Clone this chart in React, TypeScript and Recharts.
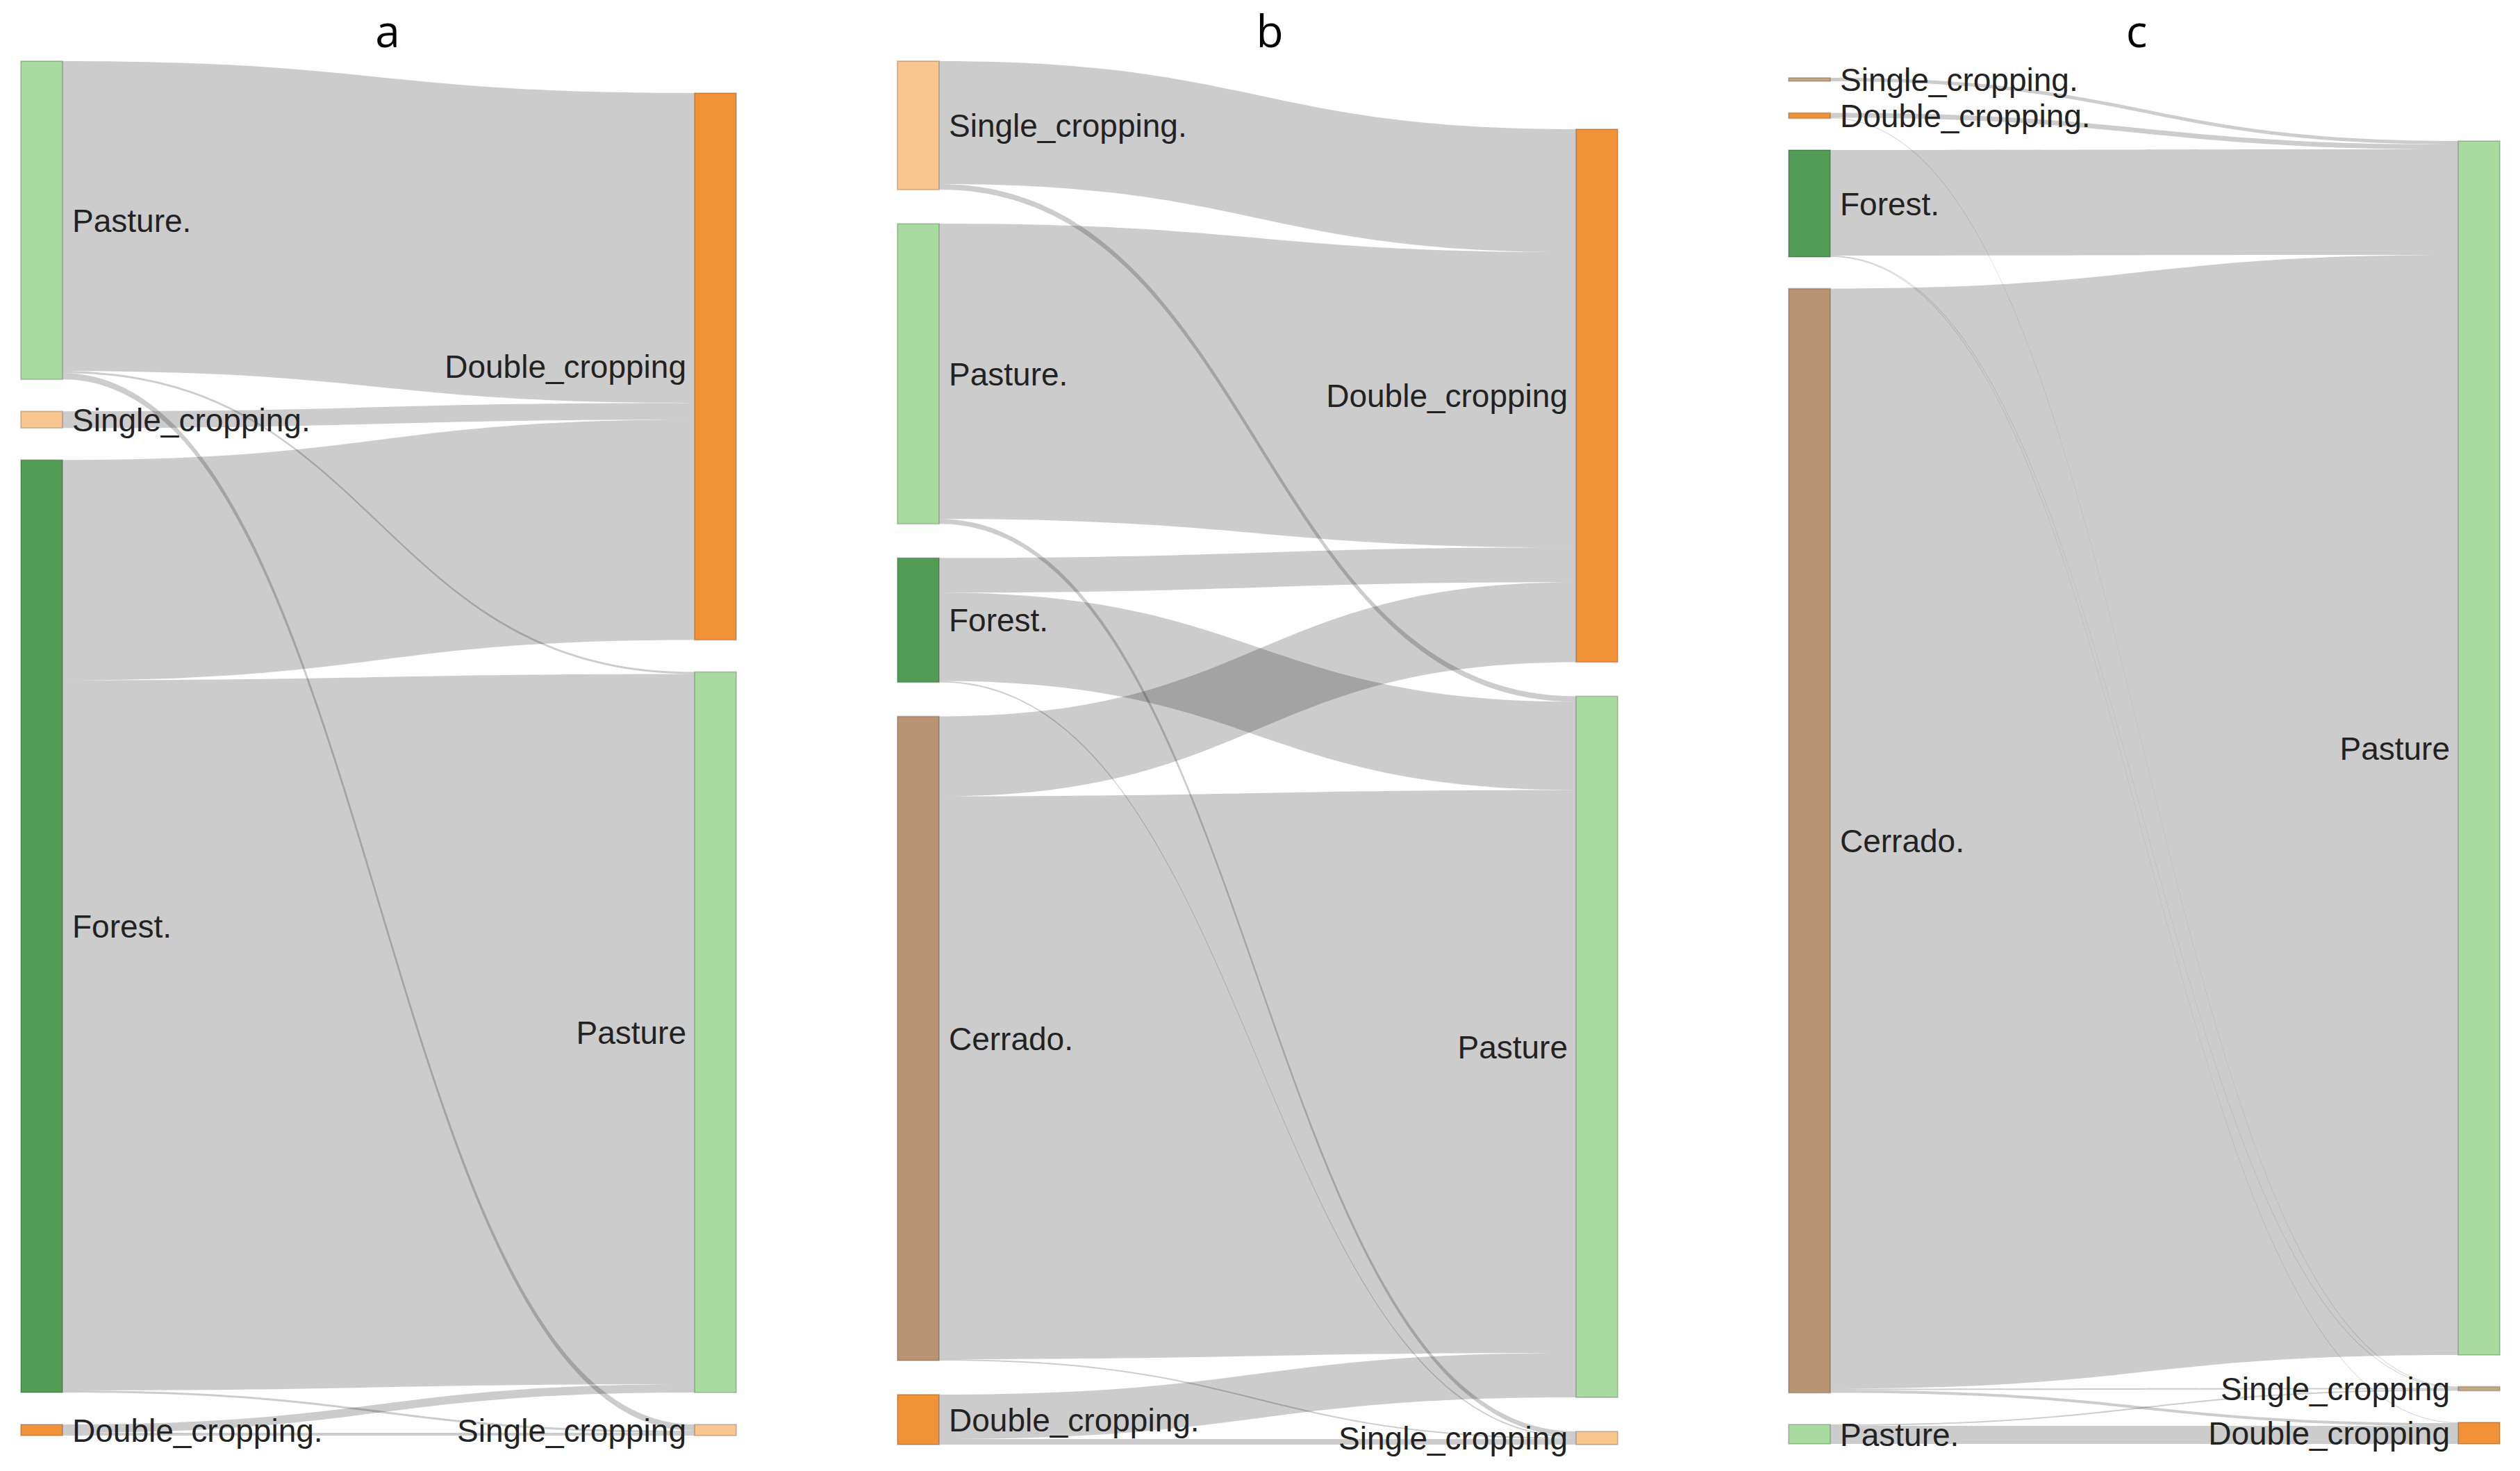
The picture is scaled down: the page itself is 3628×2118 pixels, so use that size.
import React from "react";
import { Sankey } from "recharts";

// ---------- data ----------
const titles = ["a", "b", "c"];

const nodesA = ["Pasture.", "Single_cropping.", "Forest.", "Double_cropping.", "Double_cropping", "Pasture", "Single_cropping"];
const linksA: [string, string, number][] = [
  ["Pasture.", "Double_cropping", 446],
  ["Pasture.", "Pasture", 3],
  ["Pasture.", "Single_cropping", 9],
  ["Single_cropping.", "Double_cropping", 24],
  ["Forest.", "Double_cropping", 317],
  ["Forest.", "Pasture", 1022],
  ["Forest.", "Single_cropping", 3],
  ["Double_cropping.", "Pasture", 12],
  ["Double_cropping.", "Single_cropping", 4],
];

const nodesB = ["Single_cropping.", "Pasture.", "Forest.", "Cerrado.", "Double_cropping.", "Double_cropping", "Pasture", "Single_cropping"];
const linksB: [string, string, number][] = [
  ["Single_cropping.", "Double_cropping", 177],
  ["Single_cropping.", "Pasture", 8],
  ["Pasture.", "Double_cropping", 425],
  ["Pasture.", "Single_cropping", 7],
  ["Forest.", "Double_cropping", 50],
  ["Forest.", "Pasture", 127],
  ["Forest.", "Single_cropping", 2],
  ["Cerrado.", "Double_cropping", 115],
  ["Cerrado.", "Pasture", 810],
  ["Cerrado.", "Single_cropping", 2],
  ["Double_cropping.", "Pasture", 64],
  ["Double_cropping.", "Single_cropping", 8],
];

const nodesC = ["Single_cropping.", "Double_cropping.", "Forest.", "Cerrado.", "Pasture.", "Pasture", "Single_cropping", "Double_cropping"];
const linksC: [string, string, number][] = [
  ["Single_cropping.", "Pasture", 5],
  ["Double_cropping.", "Pasture", 7],
  ["Double_cropping.", "Single_cropping", 1],
  ["Forest.", "Pasture", 152],
  ["Forest.", "Single_cropping", 1],
  ["Forest.", "Double_cropping", 1],
  ["Cerrado.", "Pasture", 1584],
  ["Cerrado.", "Single_cropping", 2],
  ["Cerrado.", "Double_cropping", 4],
  ["Pasture.", "Single_cropping", 2],
  ["Pasture.", "Double_cropping", 26],
];

// ---------- styles ----------
const paletteAB: Record<string, string> = {
  Pasture: "#a9dba0",
  Forest: "#539c56",
  Cerrado: "#b99472",
  Double_cropping: "#f19239",
  Single_cropping: "#f8c68e",
};
const paletteC: Record<string, string> = { ...paletteAB, Single_cropping: "#c6a684" };

const LABEL_FONT = "'Liberation Sans', Arial, sans-serif";

function buildData(nodes: string[], links: [string, string, number][]) {
  return {
    nodes: nodes.map((name) => ({ name })),
    links: links.map(([s, t, v]) => ({ source: nodes.indexOf(s), target: nodes.indexOf(t), value: v })),
  };
}

function makeNode(palette: Record<string, string>) {
  return (props: any) => {
    const { x, y, width, height, payload } = props;
    const name: string = payload?.name ?? "";
    const key = name.replace(/\.$/, "");
    const isLeft = x < 500;
    const cy = y + height / 2;
    return (
      <g>
        <rect x={x} y={y} width={width} height={height} fill={palette[key] || "#999"} stroke="#000" strokeOpacity={0.18} strokeWidth={2} />
        <text
          x={isLeft ? x + width + 14 : x - 12}
          y={cy}
          dy="0.36em"
          textAnchor={isLeft ? "start" : "end"}
          fontSize={46}
          fontFamily={LABEL_FONT}
          fill="#222"
        >
          {name}
        </text>
      </g>
    );
  };
}

function RibbonLink(props: any) {
  const { sourceX, targetX, sourceY, targetY, sourceControlX, targetControlX, linkWidth } = props;
  const h = linkWidth / 2;
  const d =
    `M${sourceX},${sourceY - h} C${sourceControlX},${sourceY - h} ${targetControlX},${targetY - h} ${targetX},${targetY - h} ` +
    `L${targetX},${targetY + h} C${targetControlX},${targetY + h} ${sourceControlX},${sourceY + h} ${sourceX},${sourceY + h} Z`;
  return <path d={d} fill="#000" fillOpacity={0.2} stroke="none" />;
}

const charts = [
  { nodes: nodesA, links: linksA, palette: paletteAB, left: 0, width: 1100, padding: 46, margin: { top: 88, bottom: 51, left: 30, right: 40 } },
  { nodes: nodesB, links: linksB, palette: paletteAB, left: 1250, width: 1130, padding: 49, margin: { top: 88, bottom: 38, left: 42, right: 51 } },
  { nodes: nodesC, links: linksC, palette: paletteC, left: 2500, width: 1128, padding: 45.5, margin: { top: 112, bottom: 39, left: 75, right: 29 } },
];
const titleX = [558, 1828, 3076];

export default function App() {
  return (
    <div style={{ position: "absolute", left: 0, top: 0, width: 3628, height: 2118, background: "#fff", overflow: "hidden" }}>
      {charts.map((c, i) => (
        <div key={i} style={{ position: "absolute", left: c.left, top: 0, width: c.width, height: 2118 }}>
          <Sankey
            width={c.width}
            height={2118}
            data={buildData(c.nodes, c.links)}
            nodeWidth={60}
            nodePadding={c.padding}
            margin={c.margin}
            sort={false}
            iterations={32}
            linkCurvature={0.5}
            node={makeNode(c.palette)}
            link={RibbonLink}
          />
        </div>
      ))}
      <svg width={3628} height={120} style={{ position: "absolute", left: 0, top: 0, pointerEvents: "none" }}>
        {titles.map((t, i) => (
          <text key={t} x={titleX[i]} y={68} textAnchor="middle" fontSize={64} fontFamily="'Open Sans', sans-serif" fill="#000">
            {t}
          </text>
        ))}
      </svg>
    </div>
  );
}
